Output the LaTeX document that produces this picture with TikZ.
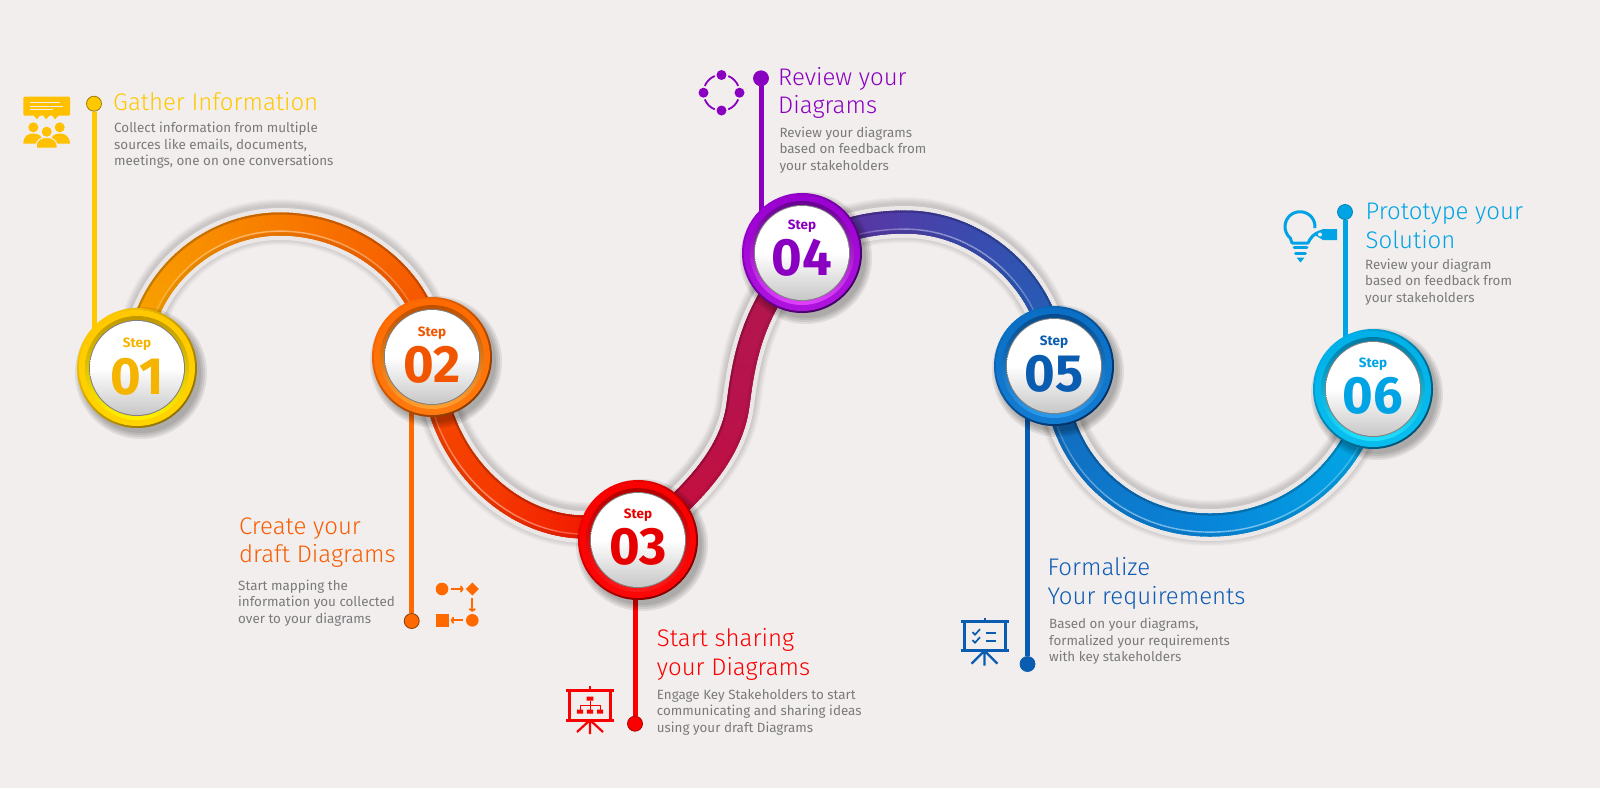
\documentclass[tikz,border=0pt]{standalone}
\usepackage{fontspec}
\setmainfont{Fira Sans}
\newfontfamily\lightfont{Fira Sans Light}
\usetikzlibrary{calc,decorations.markings,arrows.meta}
\definecolor{bgc}{HTML}{F3EEEE}
\definecolor{haloc}{HTML}{EBE7E7}
\definecolor{bodyc}{HTML}{7A7A7A}
\definecolor{cA}{HTML}{FFC800}\definecolor{cAd}{HTML}{8F7000}\definecolor{cAb}{HTML}{FFF000}\definecolor{cAt}{HTML}{F5B400}
\definecolor{cB}{HTML}{FF6A00}\definecolor{cBd}{HTML}{8A3A00}\definecolor{cBb}{HTML}{FFA030}\definecolor{cBt}{HTML}{F25500}
\definecolor{cC}{HTML}{FA0000}\definecolor{cCd}{HTML}{7C0000}\definecolor{cCb}{HTML}{FF1818}\definecolor{cCt}{HTML}{E60000}
\definecolor{cD}{HTML}{9A00D0}\definecolor{cDd}{HTML}{3E0060}\definecolor{cDb}{HTML}{E040FF}\definecolor{cDt}{HTML}{8A00C0}
\definecolor{cE}{HTML}{0A6FC4}\definecolor{cEd}{HTML}{042E60}\definecolor{cEb}{HTML}{2A9AEE}\definecolor{cEt}{HTML}{0A5CB0}
\definecolor{cF}{HTML}{00B0E8}\definecolor{cFd}{HTML}{004F70}\definecolor{cFb}{HTML}{20E0FF}\definecolor{cFt}{HTML}{00A4E4}
\definecolor{ttlB}{HTML}{F75C00}
\definecolor{ttlE}{HTML}{0D5CB5}
\definecolor{ra1}{HTML}{F8AC00}\definecolor{ra2}{HTML}{F87C00}\definecolor{ra3}{HTML}{F54B00}
\definecolor{rb2}{HTML}{F53A00}\definecolor{rb3}{HTML}{F00A00}
\definecolor{rc1}{HTML}{C80F38}\definecolor{rc2}{HTML}{B8124C}\definecolor{rc3}{HTML}{B0184E}
\definecolor{rd1}{HTML}{6A2A9E}\definecolor{rd2}{HTML}{3C4AAE}\definecolor{rd3}{HTML}{1E63B8}
\definecolor{re1}{HTML}{1666B8}\definecolor{re2}{HTML}{0884D8}\definecolor{re3}{HTML}{00B0EA}
\pgfdeclarelayer{ground}\pgfdeclarelayer{road}\pgfdeclarelayer{stems}
\pgfsetlayers{ground,road,stems,main}
\newcommand{\roadpiece}{%
  \pgfmathsetmacro\tpos{\pgfkeysvalueof{/pgf/decoration/mark info/distance from start}/\pgfdecoratedpathlength}%
  \pgfmathsetmacro\pa{min(100,max(0,200*\tpos))}%
  \pgfmathsetmacro\pb{min(100,max(0,200*\tpos-100))}%
  \colorlet{rc}{\roadB!\pa!\roadA}\colorlet{rd}{\roadC!\pb!rc}%
  \pgfmathsetmacro\hl{100-\hlamt*sin(180*\tpos)}%
  \fill[rd] (-1.4pt,-11.5pt) rectangle (1.4pt,11.5pt);
  \fill[rd!78!black] (-1.4pt,9.5pt) rectangle (1.4pt,11.5pt);
  \fill[rd!92!black] (-1.4pt,-11.5pt) rectangle (1.4pt,-8.5pt);
  \fill[rd!\hl!white] (-1.4pt,-7.8pt) rectangle (1.4pt,-6.4pt);
}
\newcommand{\roadband}[5]{%
  \def\roadA{#2}\def\roadB{#3}\def\roadC{#4}\def\hlamt{#5}%
  \path[decoration={markings,mark=between positions 0 and 1 step 2pt with {\roadpiece}},decorate] #1;
}
\newcommand{\stepc}[9]{% name x y digits main dark bright textcolor stepname
  \foreach \rr in {66,64,62,60}{\fill[black,opacity=.08] (#2+4,#3+5) circle[radius=\rr];}
  \node[stepring,top color=#5,bottom color=#6,shading angle=45] (#1) at (#2,#3) {};
  \shade[top color=#5,bottom color=#5!70!#7] (#1.center) circle[radius=58];
  \shade[top color=#6!55!#5,bottom color=#7] (#1.center) circle[radius=52];
  \fill[black!50] (#1.center) circle[radius=48];
  \shade[top color=white,bottom color=black!22,middle color=white] (#1.center) circle[radius=47];
  \node[steplabel,text=#8] (#9) at ($(#1.center)+(0,-25+\sdy)$) {Step};
  \node[stepdigits,text=#8] (#9n) at ($(#1.center)+(0,7+\sdy)$) {#4};
}
\tikzset{
  stepring/.style={circle,minimum size=120pt,inner sep=0pt},
  steplabel/.style={font=\bfseries\fontsize{13.5}{14}\selectfont,inner sep=0pt},
  stepdigits/.style={font=\bfseries\fontsize{52.5}{52}\selectfont,inner sep=0pt},
  titletext/.style={font=\lightfont\fontsize{24}{28.3}\selectfont,align=left,anchor=base west,inner sep=0pt},
  bodytext/.style={font=\fontsize{13.4}{16.3}\selectfont,align=left,anchor=base west,inner sep=0pt,text=bodyc},
  enddot/.style={circle,minimum size=15pt,inner sep=0pt,line width=.8pt},
  stem/.style={line width=5pt},
  shadowpass/.style={black,opacity=.024,line cap=butt},
  halopass/.style={haloc,line width=32pt,line cap=butt},
}
\def\PA{(s1.center) .. controls (137,285) and (205,224) .. (280,224) .. controls (360,224) and (432,285) .. (s2.center)}
\def\PB{(s2.center) .. controls (432,450) and (505,527) .. (585,527) .. controls (600,527) and (620,530) .. (s3.center)}
\def\PC{(s3.center) .. controls (675,508) and (730,465) .. (738,405) .. controls (744,358) and (752,310) .. (s4.center)}
\def\PD{(s4.center) .. controls (830,232) and (865,222) .. (905,222) .. controls (985,222) and (1054,290) .. (s5.center)}
\def\PE{(s5.center) .. controls (1054,455) and (1120,525) .. (1210,525) .. controls (1285,525) and (1355,475) .. (s6.center)}
\begin{document}
\begin{tikzpicture}[x=1pt,y=-1pt]
\useasboundingbox (0,0) rectangle (1600,788);
\begin{pgfonlayer}{ground}
\fill[bgc] (0,0) rectangle (1600,788);
\end{pgfonlayer}
% step circles
\def\sdy{1.5}\stepc{s1}{137}{368}{01}{cA}{cAd}{cAb}{cAt}{st1}
\def\sdy{1}\stepc{s2}{432}{357}{02}{cB}{cBd}{cBb}{cBt}{st2}
\def\sdy{0}\stepc{s3}{638}{540}{03}{cC}{cCd}{cCb}{cCt}{st3}
\def\sdy{-2}\stepc{s4}{802}{253}{04}{cD}{cDd}{cDb}{cDt}{st4}
\def\sdy{1}\stepc{s5}{1054}{366}{05}{cE}{cEd}{cEb}{cEt}{st5}
\def\sdy{0}\stepc{s6}{1373}{389}{06}{cF}{cFd}{cFb}{cFt}{st6}
% end dots
\node[enddot,fill=cA,draw=cAd!85!cA] (d1) at (94,103.7) {};
\node[enddot,fill=cB,draw=cBd] (d2) at (411.7,621) {};
\node[enddot,fill=cC,draw=cCd!60!cC] (d3) at (635,723.7) {};
\node[enddot,fill=cDt,draw=cDt] (d4) at (761,78.3) {};
\node[enddot,fill=cEt,draw=cEt] (d5) at (1027.5,664) {};
\node[enddot,fill=cFt,draw=cFt!80!black] (d6) at (1345,212) {};
% stems
\begin{pgfonlayer}{stems}
\draw[stem,cA] (d1) -- (d1 |- s1);
\draw[stem,cB] (d2) -- (d2 |- s2);
\draw[stem,cC] (d3) -- (d3 |- s3);
\draw[stem,cDt] (d4) -- (d4 |- s4);
\draw[stem,cEt] (d5) -- (d5 |- s5);
\draw[stem,cFt] (d6) -- (d6 |- s6);
\end{pgfonlayer}
% road
\begin{pgfonlayer}{road}
\begin{scope}[transform canvas={yshift=2pt}]
\foreach \w in {46,44,42,40,38,36,34}{
  \draw[shadowpass,line width=\w pt] \PA;
  \draw[shadowpass,line width=\w pt] \PB;
  \draw[shadowpass,line width=\w pt] \PC;
  \draw[shadowpass,line width=\w pt] \PD;
  \draw[shadowpass,line width=\w pt] \PE;
}
\end{scope}
\draw[halopass] \PA; \draw[halopass] \PB; \draw[halopass] \PC; \draw[halopass] \PD; \draw[halopass] \PE;
\roadband{\PA}{ra1}{ra2}{ra3}{45}
\roadband{\PB}{ra3}{rb2}{rb3}{45}
\roadband{\PC}{rc1}{rc2}{rc3}{0}
\roadband{\PD}{rd1}{rd2}{rd3}{45}
\roadband{\PE}{re1}{re2}{re3}{50}
\end{pgfonlayer}
% titles and bodies
\node[titletext,text=cA] (t1) at (113,110.7) {Gather Information};
\node[bodytext] (b1) at (114,165.3) {Collect information from multiple\\sources like emails, documents,\\meetings, one on one conversations};
\node[titletext,text=ttlB] (t2) at (239,562.7) {Create your\\draft Diagrams};
\node[bodytext] (b2) at (238,623) {Start mapping the\\information you collected\\over to your diagrams};
\node[titletext,text=cC] (t3) at (656.7,675) {Start sharing\\your Diagrams};
\node[bodytext] (b3) at (656.7,732) {Engage Key Stakeholders to start\\communicating and sharing ideas\\using your draft Diagrams};
\node[titletext,text=cDt] (t4) at (778,113.3) {Review your\\Diagrams};
\node[bodytext] (b4) at (779.3,170) {Review your diagrams\\based on feedback from\\your stakeholders};
\node[titletext,text=ttlE] (t5) at (1047.5,604) {Formalize\\Your requirements};
\node[bodytext] (b5) at (1049,661.5) {Based on your diagrams,\\formalized your requirements\\with key stakeholders};
\node[titletext,text=cFt] (t6) at (1365.5,248) {Prototype your\\Solution};
\node[bodytext] (b6) at (1365,302) {Review your diagram\\based on feedback from\\your stakeholders};
% icon 1
\fill[cA!96!red,rounded corners=1.2pt] (23.3,96.7) rectangle (70,115.7);
\foreach \xa/\xb in {36.7/33.5,46/43,55/52}{\fill[cA!96!red] (\xb,115) -- (\xb+7,115) -- (\xa,119.3) -- cycle;}
\draw[bgc,line width=.9pt] (30,102.3) -- (60,102.3) (30,106) -- (63.3,106) (30,109.3) -- (53.3,109.3);
\fill[cA!96!red] (33.3,127.3) circle[radius=5] (59.7,127.3) circle[radius=5] (46.7,131.7) circle[radius=5];
\fill[cA!96!red] (23.3,143.5) .. controls (23.5,136) and (28,133.5) .. (33.3,133.5) .. controls (38.5,133.5) and (43,136) .. (43.5,143.5) -- cycle;
\fill[cA!96!red] (50,143.5) .. controls (50.5,136) and (54.5,133.5) .. (59.7,133.5) .. controls (65,133.5) and (69.5,136) .. (70,143.5) -- cycle;
\fill[cA!96!red,draw=bgc,line width=1pt] (36.3,148) -- (36.3,145) .. controls (36.5,140) and (41,137.5) .. (46.7,137.5) .. controls (52,137.5) and (56.5,140) .. (57,145) -- (57,148) -- cycle;
% icon 2
\fill[cB] (442,589) circle[radius=6.3] (472.3,620.3) circle[radius=6.3];
\fill[cB] (465.8,589) -- (472.3,582.5) -- (478.8,589) -- (472.3,595.5) -- cycle;
\fill[cB] (435.5,613.8) rectangle (448.5,626.8);
\draw[cB,line width=1.9pt,-{To[length=3.5pt,width=7pt]}] (451,589) -- (463.5,589);
\draw[cB,line width=1.9pt,-{To[length=3.5pt,width=7pt]}] (472.3,598.3) -- (472.3,611.7);
\draw[cB,line width=1.9pt,-{To[length=3.5pt,width=7pt]}] (463.3,620.3) -- (450.7,620.3);
% icon 3
\begin{scope}[shift={(590,690)},cC,draw=cC,fill=cC]
\draw[line width=3pt] (-24,0) -- (24,0) (-24,30) -- (24,30) (-20.5,0) -- (-20.5,30) (20.5,0) -- (20.5,30);
\draw[line width=2pt] (0,-4) -- (0,0);
\draw[line width=2.2pt] (0,30) -- (-13,42) (0,30) -- (13,42) (0,30) -- (0,44);
\fill (-3.4,6.5) rectangle (3.4,10.5) (-13.2,19.5) rectangle (-7,23.5) (-3.2,19.5) rectangle (3.2,23.5) (7,19.5) rectangle (13.2,23.5);
\draw[line width=.8pt] (0,10.5) -- (0,19.5) (-10,19.5) -- (-10,15) -- (10,15) -- (10,19.5);
\end{scope}
% icon 4
\fill[cDt] (721.5,75) circle[radius=5] (703.5,92.7) circle[radius=5] (739.5,92.7) circle[radius=5] (721.5,110.5) circle[radius=5];
\foreach \sa in {22,112,202,292}{
  \draw[cDt,line width=1.8pt] (721.5,92.7) ++(\sa:18) arc[start angle=\sa,delta angle=46,radius=18];
}
% icon 5
\begin{scope}[shift={(984.5,621.7)},cEt,draw=cEt,fill=cEt]
\draw[line width=3pt] (-24,0) -- (24,0) (-24,29) -- (24,29) (-20.5,0) -- (-20.5,29) (20.5,0) -- (20.5,29);
\draw[line width=2pt] (0,-4) -- (0,0);
\draw[line width=2.2pt] (0,29) -- (-13,42) (0,29) -- (13,42) (0,29) -- (0,44);
\draw[line width=1.7pt] (-12,10.5) -- (-9.5,13) -- (-4.5,7.5) (-12,18.5) -- (-9.5,21) -- (-4.5,15.5);
\draw[line width=1.9pt] (1.5,11) -- (11.5,11) (1.5,19) -- (11.5,19);
\end{scope}
% icon 6
\draw[cFt,line width=3pt,line join=round] (1300,226.7) ++(5:15) arc[start angle=5,end angle=-230,radius=15] -- (1292,243) -- (1308,243) .. controls (1310,239) and (1313,233) .. (1323,231);
\fill[cFt] (1337,229) -- (1323,229) -- (1314,234.5) -- (1323,240) -- (1337,240) -- cycle;
\fill[bgc] (1320,234.5) circle[radius=2];
\draw[cFt,line width=2.6pt,line cap=round] (1294,247.7) -- (1307,247.7) (1295.5,253.3) -- (1305.5,253.3);
\fill[cFt] (1296.5,257.5) -- (1304.5,257.5) -- (1300.5,262.5) -- cycle;
\end{tikzpicture}
\end{document}
